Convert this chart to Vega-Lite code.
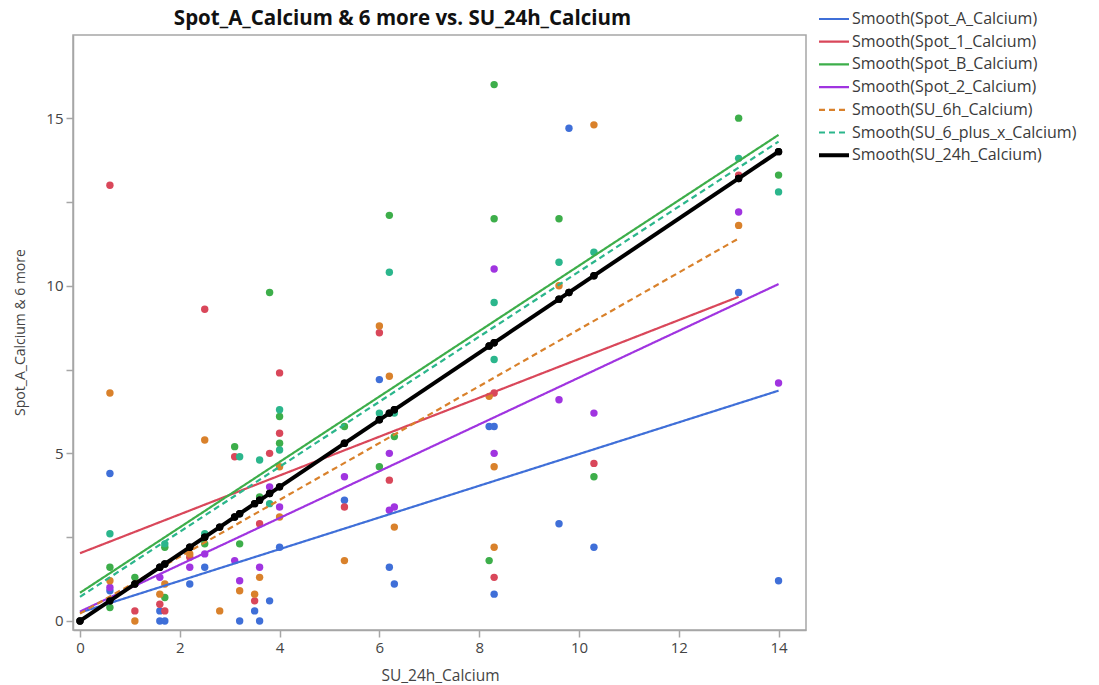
{
  "$schema": "https://vega.github.io/schema/vega-lite/v6.json",
  "width": 733,
  "height": 595,
  "autosize": "none",
  "padding": {"left": 73, "top": 35, "right": 293, "bottom": 55},
  "background": "white",
  "config": {
    "font": "Open Sans",
    "view": {"stroke": "#a6a6a6", "strokeWidth": 1.5},
    "axis": {
      "domainColor": "#a6a6a6", "tickColor": "#a6a6a6", "grid": false,
      "labelFontSize": 15, "labelColor": "#444", "labelFont": "Open Sans",
      "titleFontSize": 14, "titleFontWeight": "normal", "titleColor": "#444", "titleFont": "Open Sans",
      "tickSize": 7, "labelPadding": 3, "domainWidth": 1.5, "tickWidth": 1.5
    },
    "legend": {
      "labelFontSize": 16, "labelColor": "#3a3a3a", "labelFont": "Open Sans", "labelFontWeight": "normal", "labelLimit": 400,
      "symbolType": "stroke", "symbolSize": 900, "rowPadding": 6.7, "labelOffset": 10
    }
  },
  "title": {
    "text": "Spot_A_Calcium & 6 more vs. SU_24h_Calcium",
    "fontSize": 20.5, "fontWeight": "bold", "color": "#111", "font": "Open Sans",
    "anchor": "middle", "dx": -37, "offset": -18
  },
  "datasets": {
    "pts": [
      {"s":"Spot_A_Calcium","x":0.6,"y":4.4},{"s":"Spot_A_Calcium","x":0.6,"y":0.9},{"s":"Spot_A_Calcium","x":1.6,"y":0.3},{"s":"Spot_A_Calcium","x":1.6,"y":0},{"s":"Spot_A_Calcium","x":1.7,"y":0},{"s":"Spot_A_Calcium","x":2.2,"y":1.1},{"s":"Spot_A_Calcium","x":2.5,"y":1.6},{"s":"Spot_A_Calcium","x":3.2,"y":0},{"s":"Spot_A_Calcium","x":3.5,"y":0.3},{"s":"Spot_A_Calcium","x":3.6,"y":0},{"s":"Spot_A_Calcium","x":3.8,"y":0.6},{"s":"Spot_A_Calcium","x":4,"y":2.2},{"s":"Spot_A_Calcium","x":5.3,"y":3.6},{"s":"Spot_A_Calcium","x":6,"y":7.2},{"s":"Spot_A_Calcium","x":6.2,"y":1.6},{"s":"Spot_A_Calcium","x":6.3,"y":1.1},{"s":"Spot_A_Calcium","x":8.2,"y":5.8},{"s":"Spot_A_Calcium","x":8.3,"y":5.8},{"s":"Spot_A_Calcium","x":8.3,"y":0.8},{"s":"Spot_A_Calcium","x":9.6,"y":2.9},{"s":"Spot_A_Calcium","x":9.8,"y":14.7},{"s":"Spot_A_Calcium","x":10.3,"y":2.2},{"s":"Spot_A_Calcium","x":13.2,"y":9.8},{"s":"Spot_A_Calcium","x":14,"y":1.2},
      {"s":"Spot_1_Calcium","x":0.6,"y":13},{"s":"Spot_1_Calcium","x":1.1,"y":0.3},{"s":"Spot_1_Calcium","x":1.6,"y":0.5},{"s":"Spot_1_Calcium","x":1.7,"y":0.3},{"s":"Spot_1_Calcium","x":2.2,"y":1.9},{"s":"Spot_1_Calcium","x":2.5,"y":9.3},{"s":"Spot_1_Calcium","x":3.1,"y":4.9},{"s":"Spot_1_Calcium","x":3.5,"y":0.6},{"s":"Spot_1_Calcium","x":3.6,"y":2.9},{"s":"Spot_1_Calcium","x":3.8,"y":5},{"s":"Spot_1_Calcium","x":4,"y":7.4},{"s":"Spot_1_Calcium","x":4,"y":5.6},{"s":"Spot_1_Calcium","x":5.3,"y":3.4},{"s":"Spot_1_Calcium","x":6,"y":8.6},{"s":"Spot_1_Calcium","x":6.2,"y":4.2},{"s":"Spot_1_Calcium","x":8.3,"y":6.8},{"s":"Spot_1_Calcium","x":8.3,"y":1.3},{"s":"Spot_1_Calcium","x":10.3,"y":4.7},{"s":"Spot_1_Calcium","x":13.2,"y":13.3},
      {"s":"Spot_B_Calcium","x":0.6,"y":1.6},{"s":"Spot_B_Calcium","x":0.6,"y":0.4},{"s":"Spot_B_Calcium","x":1.1,"y":1.3},{"s":"Spot_B_Calcium","x":1.7,"y":2.2},{"s":"Spot_B_Calcium","x":1.7,"y":0.7},{"s":"Spot_B_Calcium","x":2.5,"y":2.3},{"s":"Spot_B_Calcium","x":3.1,"y":5.2},{"s":"Spot_B_Calcium","x":3.2,"y":2.3},{"s":"Spot_B_Calcium","x":3.6,"y":3.7},{"s":"Spot_B_Calcium","x":3.8,"y":9.8},{"s":"Spot_B_Calcium","x":4,"y":6.1},{"s":"Spot_B_Calcium","x":4,"y":5.3},{"s":"Spot_B_Calcium","x":5.3,"y":5.8},{"s":"Spot_B_Calcium","x":6,"y":4.6},{"s":"Spot_B_Calcium","x":6.2,"y":12.1},{"s":"Spot_B_Calcium","x":6.3,"y":5.5},{"s":"Spot_B_Calcium","x":8.2,"y":1.8},{"s":"Spot_B_Calcium","x":8.3,"y":16},{"s":"Spot_B_Calcium","x":8.3,"y":12},{"s":"Spot_B_Calcium","x":9.6,"y":12},{"s":"Spot_B_Calcium","x":10.3,"y":4.3},{"s":"Spot_B_Calcium","x":13.2,"y":15},{"s":"Spot_B_Calcium","x":14,"y":13.3},
      {"s":"Spot_2_Calcium","x":0.6,"y":1},{"s":"Spot_2_Calcium","x":1.6,"y":1.3},{"s":"Spot_2_Calcium","x":2.2,"y":1.6},{"s":"Spot_2_Calcium","x":2.5,"y":2},{"s":"Spot_2_Calcium","x":3.1,"y":1.8},{"s":"Spot_2_Calcium","x":3.2,"y":1.2},{"s":"Spot_2_Calcium","x":3.6,"y":1.6},{"s":"Spot_2_Calcium","x":3.8,"y":4},{"s":"Spot_2_Calcium","x":4,"y":3.4},{"s":"Spot_2_Calcium","x":5.3,"y":4.3},{"s":"Spot_2_Calcium","x":6.2,"y":5},{"s":"Spot_2_Calcium","x":6.2,"y":3.3},{"s":"Spot_2_Calcium","x":6.3,"y":3.4},{"s":"Spot_2_Calcium","x":8.3,"y":10.5},{"s":"Spot_2_Calcium","x":8.3,"y":5},{"s":"Spot_2_Calcium","x":9.6,"y":6.6},{"s":"Spot_2_Calcium","x":10.3,"y":6.2},{"s":"Spot_2_Calcium","x":13.2,"y":12.2},{"s":"Spot_2_Calcium","x":14,"y":7.1},
      {"s":"SU_6h_Calcium","x":0.6,"y":6.8},{"s":"SU_6h_Calcium","x":0.6,"y":1.2},{"s":"SU_6h_Calcium","x":1.1,"y":0},{"s":"SU_6h_Calcium","x":1.6,"y":0.8},{"s":"SU_6h_Calcium","x":1.7,"y":1.1},{"s":"SU_6h_Calcium","x":2.2,"y":2},{"s":"SU_6h_Calcium","x":2.5,"y":5.4},{"s":"SU_6h_Calcium","x":2.8,"y":0.3},{"s":"SU_6h_Calcium","x":3.2,"y":0.9},{"s":"SU_6h_Calcium","x":3.5,"y":0.8},{"s":"SU_6h_Calcium","x":3.6,"y":1.3},{"s":"SU_6h_Calcium","x":4,"y":4.6},{"s":"SU_6h_Calcium","x":4,"y":3.1},{"s":"SU_6h_Calcium","x":5.3,"y":1.8},{"s":"SU_6h_Calcium","x":6,"y":8.8},{"s":"SU_6h_Calcium","x":6.2,"y":7.3},{"s":"SU_6h_Calcium","x":6.3,"y":2.8},{"s":"SU_6h_Calcium","x":8.2,"y":6.7},{"s":"SU_6h_Calcium","x":8.3,"y":4.6},{"s":"SU_6h_Calcium","x":8.3,"y":2.2},{"s":"SU_6h_Calcium","x":9.6,"y":10},{"s":"SU_6h_Calcium","x":10.3,"y":14.8},{"s":"SU_6h_Calcium","x":13.2,"y":11.8},
      {"s":"SU_6_plus_x_Calcium","x":0.6,"y":2.6},{"s":"SU_6_plus_x_Calcium","x":1.7,"y":2.3},{"s":"SU_6_plus_x_Calcium","x":2.5,"y":2.6},{"s":"SU_6_plus_x_Calcium","x":3.2,"y":4.9},{"s":"SU_6_plus_x_Calcium","x":3.6,"y":4.8},{"s":"SU_6_plus_x_Calcium","x":3.8,"y":3.5},{"s":"SU_6_plus_x_Calcium","x":4,"y":6.3},{"s":"SU_6_plus_x_Calcium","x":4,"y":5.1},{"s":"SU_6_plus_x_Calcium","x":6,"y":6.2},{"s":"SU_6_plus_x_Calcium","x":6.2,"y":10.4},{"s":"SU_6_plus_x_Calcium","x":6.3,"y":6.2},{"s":"SU_6_plus_x_Calcium","x":8.3,"y":9.5},{"s":"SU_6_plus_x_Calcium","x":8.3,"y":7.8},{"s":"SU_6_plus_x_Calcium","x":9.6,"y":10.7},{"s":"SU_6_plus_x_Calcium","x":10.3,"y":11},{"s":"SU_6_plus_x_Calcium","x":13.2,"y":13.8},{"s":"SU_6_plus_x_Calcium","x":14,"y":12.8},
      {"s":"SU_24h_Calcium","x":0,"y":0},{"s":"SU_24h_Calcium","x":0.6,"y":0.6},{"s":"SU_24h_Calcium","x":1.1,"y":1.1},{"s":"SU_24h_Calcium","x":1.6,"y":1.6},{"s":"SU_24h_Calcium","x":1.7,"y":1.7},{"s":"SU_24h_Calcium","x":2.2,"y":2.2},{"s":"SU_24h_Calcium","x":2.5,"y":2.5},{"s":"SU_24h_Calcium","x":2.8,"y":2.8},{"s":"SU_24h_Calcium","x":3.1,"y":3.1},{"s":"SU_24h_Calcium","x":3.2,"y":3.2},{"s":"SU_24h_Calcium","x":3.5,"y":3.5},{"s":"SU_24h_Calcium","x":3.6,"y":3.6},{"s":"SU_24h_Calcium","x":3.8,"y":3.8},{"s":"SU_24h_Calcium","x":4,"y":4},{"s":"SU_24h_Calcium","x":5.3,"y":5.3},{"s":"SU_24h_Calcium","x":6,"y":6},{"s":"SU_24h_Calcium","x":6.2,"y":6.2},{"s":"SU_24h_Calcium","x":6.3,"y":6.3},{"s":"SU_24h_Calcium","x":8.2,"y":8.2},{"s":"SU_24h_Calcium","x":8.3,"y":8.3},{"s":"SU_24h_Calcium","x":9.6,"y":9.6},{"s":"SU_24h_Calcium","x":9.8,"y":9.8},{"s":"SU_24h_Calcium","x":10.3,"y":10.3},{"s":"SU_24h_Calcium","x":13.2,"y":13.2},{"s":"SU_24h_Calcium","x":14,"y":14}
    ],
    "lines": [
      {"s":"Spot_A_Calcium","x":0,"y":0.25},{"s":"Spot_A_Calcium","x":14,"y":6.87},
      {"s":"Spot_1_Calcium","x":0,"y":2.02},{"s":"Spot_1_Calcium","x":13.2,"y":9.67},
      {"s":"Spot_B_Calcium","x":0,"y":0.84},{"s":"Spot_B_Calcium","x":14,"y":14.5},
      {"s":"Spot_2_Calcium","x":0,"y":0.28},{"s":"Spot_2_Calcium","x":14,"y":10.05},
      {"s":"SU_6h_Calcium","x":0,"y":0.22},{"s":"SU_6h_Calcium","x":13.2,"y":11.41},
      {"s":"SU_6_plus_x_Calcium","x":0,"y":0.72},{"s":"SU_6_plus_x_Calcium","x":14,"y":14.3},
      {"s":"SU_24h_Calcium","x":0,"y":0},{"s":"SU_24h_Calcium","x":14,"y":14}
    ]
  },
  "encoding": {
    "x": {"field": "x", "type": "quantitative",
      "scale": {"domain": [-0.14, 14.55], "nice": false, "zero": false},
      "axis": {"values": [0,2,4,6,8,10,12,14], "title": "SU_24h_Calcium", "titleFontSize": 15.5, "titleX": 367, "titleY": 45, "titleBaseline": "middle"}},
    "y": {"field": "y", "type": "quantitative",
      "scale": {"domain": [-0.27, 17.48], "nice": false, "zero": false},
      "axis": {"values": [0,2.5,5,7.5,10,12.5,15], "labelExpr": "datum.value % 5 === 0 ? datum.label : ''", "title": "Spot_A_Calcium & 6 more", "titleFontSize": 14, "titleX": -53, "titleY": 297, "titleBaseline": "middle", "titleAlign": "center"}}
  },
  "layer": [
    {
      "data": {"name": "pts"},
      "mark": {"type": "circle", "size": 55, "opacity": 1},
      "encoding": {
        "color": {"field": "s", "type": "nominal", "legend": null,
          "scale": {"domain": ["Spot_A_Calcium","Spot_1_Calcium","Spot_B_Calcium","Spot_2_Calcium","SU_6h_Calcium","SU_6_plus_x_Calcium","SU_24h_Calcium"],
                    "range": ["#3F6FD8","#D9475A","#3DAE4A","#A034E0","#D9812B","#2BB68C","#000000"]}}
      }
    },
    {
      "data": {"name": "lines"},
      "transform": [{"filter": "datum.s !== 'SU_24h_Calcium'"}],
      "mark": {"type": "line", "strokeWidth": 2.2},
      "encoding": {
        "detail": {"field": "s"},
        "color": {"field": "s", "type": "nominal", "title": null,
          "scale": {"domain": ["Spot_A_Calcium","Spot_1_Calcium","Spot_B_Calcium","Spot_2_Calcium","SU_6h_Calcium","SU_6_plus_x_Calcium","SU_24h_Calcium"],
                    "range": ["#3F6FD8","#D9475A","#3DAE4A","#A034E0","#D9812B","#2BB68C","#000000"]},
          "legend": {"orient": "none", "legendX": 753, "legendY": -24, "labelExpr": "'Smooth(' + datum.label + ')'", "title": null,
            "symbolSize": 900, "labelOffset": 10, "rowPadding": 6.7,
            "encode": {"symbols": {"update": {
              "strokeDash": {"signal": "(datum.value === 'SU_6h_Calcium' || datum.value === 'SU_6_plus_x_Calcium') ? [6,4] : [1,0]"},
              "strokeWidth": {"signal": "datum.value === 'SU_24h_Calcium' ? 4 : 2.2"}
            }}}}},
        "strokeDash": {"field": "s", "type": "nominal", "legend": null,
          "scale": {"domain": ["Spot_A_Calcium","Spot_1_Calcium","Spot_B_Calcium","Spot_2_Calcium","SU_6h_Calcium","SU_6_plus_x_Calcium","SU_24h_Calcium"],
                    "range": [[1,0],[1,0],[1,0],[1,0],[6,4],[6,4],[1,0]]}}
      }
    },
    {
      "data": {"name": "lines"},
      "transform": [{"filter": "datum.s === 'SU_24h_Calcium'"}],
      "mark": {"type": "line", "strokeWidth": 4, "color": "#000000"},
      "encoding": {}
    },
    {
      "data": {"name": "pts"},
      "transform": [{"filter": "datum.s === 'SU_24h_Calcium'"}],
      "mark": {"type": "circle", "size": 55, "opacity": 1, "color": "#000000"}
    }
  ],
  "resolve": {"legend": {"color": "independent"}}
}
